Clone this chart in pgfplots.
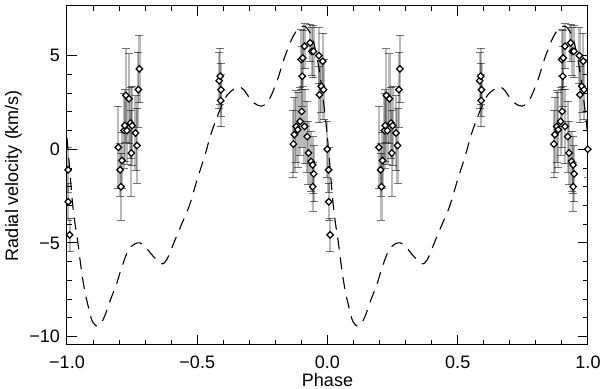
\documentclass[border=0pt]{standalone}
\usepackage{fontspec}
\setmainfont{Liberation Sans}
\usepackage{pgfplots}
\usepackage{pgfplotstable}
\pgfplotsset{compat=1.18}

% phase-folded radial velocities: phase, rv (km/s), error
\pgfplotstableread{
ph rv e
0.197 0.10 2.2
0.204 -1.10 1.4
0.207 -2.00 1.8
0.211 -0.60 1.5
0.219 1.00 2.0
0.222 1.27 1.9
0.226 2.88 2.5
0.230 1.00 1.8
0.238 2.70 2.4
0.244 1.40 1.9
0.247 -0.20 2.3
0.250 1.26 2.1
0.263 0.87 2.0
0.269 0.20 2.0
0.274 3.18 2.0
0.278 4.29 1.8
0.584 3.66 1.5
0.588 3.90 1.5
0.590 2.60 1.4
0.591 3.18 1.4
0.869 0.28 1.8
0.873 0.78 2.0
0.880 1.22 1.9
0.886 1.04 2.0
0.895 1.49 1.8
0.899 4.79 1.6
0.901 2.02 1.9
0.903 3.90 1.6
0.905 4.87 1.5
0.912 5.50 1.2
0.912 1.22 2.0
0.922 0.68 1.9
0.927 -0.20 1.7
0.933 5.68 1.0
0.937 -0.65 1.6
0.940 5.23 1.3
0.943 -0.83 1.5
0.943 -2.00 1.3
0.946 5.23 1.4
0.947 -1.31 1.5
0.967 5.00 1.5
0.969 2.91 1.5
0.976 3.36 1.4
0.982 4.70 1.5
0.985 3.18 1.6
0.999 0.00 1.5
0.004 -1.10 1.2
0.005 -2.80 1.0
0.010 -4.57 0.9
}\rvdata

% orbital model over one phase
\pgfplotstableread{
ph rv
0.000 0.6
0.010 -1.0
0.020 -2.7
0.030 -3.9
0.040 -4.8
0.050 -5.9
0.060 -6.9
0.070 -7.7
0.080 -8.3
0.090 -8.9
0.100 -9.25
0.115 -9.45
0.130 -9.3
0.145 -8.9
0.165 -8.1
0.190 -7.2
0.210 -6.3
0.235 -5.4
0.260 -5.05
0.280 -5.0
0.300 -5.2
0.330 -5.7
0.360 -6.1
0.375 -6.05
0.390 -5.7
0.410 -5.0
0.440 -4.0
0.470 -3.0
0.500 -1.6
0.530 -0.3
0.550 0.7
0.570 1.5
0.590 2.2
0.615 2.9
0.640 3.2
0.660 3.35
0.680 3.15
0.700 2.75
0.720 2.45
0.745 2.3
0.765 2.45
0.785 2.9
0.810 3.8
0.835 4.9
0.860 5.8
0.880 6.3
0.900 6.55
0.915 6.55
0.930 6.3
0.945 5.8
0.960 4.9
0.975 3.6
0.990 1.9
1.000 0.6
}\model

\newcommand{\lab}{\fontsize{9}{10.5}\selectfont}

\pgfplotsset{
  rvpts/.style={only marks, mark=square*, mark size=1.15pt,
    mark options={draw=black, fill=white, line width=0.6pt, rotate=45},
    error bars/.cd, y dir=both, y explicit,
    error bar style={black, opacity=0.27, line width=1.1pt},
    error mark options={black, opacity=0.55, line width=0.4pt, mark size=2pt, rotate=90}},
  modelline/.style={black, line width=0.55pt, dash pattern=on 6pt off 4pt, smooth},
}

\begin{document}
\begin{tikzpicture}
\begin{axis}[
  scale only axis,
  width=260.5pt, height=169.5pt,
  xmin=-1, xmax=1, ymin=-10.45, ymax=7.65,
  axis line style={line width=0.5pt},
  tick pos=both, tick align=inside,
  xticklabel pos=bottom, yticklabel pos=left,
  major tick length=5pt, minor tick length=2.5pt,
  tick style={black, line width=0.5pt},
  xtick={-1,-0.5,0,0.5,1},
  xticklabels={−1.0,−0.5,0.0,0.5,1.0},
  ytick={-10,-5,0,5},
  yticklabels={−10,−5,0,5},
  minor x tick num=4, minor y tick num=4,
  tick label style={font=\lab},
  label style={font=\lab},
  xlabel={Phase}, ylabel={Radial velocity (km/s)},
  xticklabel style={yshift=-2pt},
  xlabel style={at={([yshift=-21pt]axis description cs:0.5,0)}, anchor=base},
  ylabel style={at={([xshift=-26.8pt]axis description cs:0,0.5)}, anchor=center},
]
\addplot[modelline] table[x expr=\thisrow{ph}-1, y=rv] {\model};
\addplot[modelline] table[x=ph, y=rv] {\model};
\addplot[rvpts] table[x expr=\thisrow{ph}-1, y=rv, y error=e] {\rvdata};
\addplot[rvpts] table[x=ph, y=rv, y error=e] {\rvdata};
\end{axis}
\pgfresetboundingbox
\path[use as bounding box] ([shift={(-33.5pt,-22pt)}]current axis.south west)
  rectangle ([shift={(6pt,3pt)}]current axis.north east);
\end{tikzpicture}
\end{document}
